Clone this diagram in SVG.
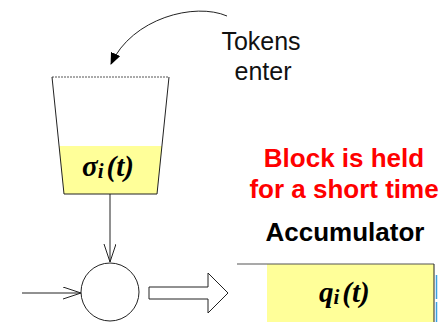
<svg xmlns="http://www.w3.org/2000/svg" width="442" height="322" viewBox="0 0 442 322">
  <style>
    .line { fill: none; stroke: #222; stroke-width: 1; }
    .sans { font-family: "Liberation Sans", Arial, sans-serif; }
    .math { font-family: "Liberation Serif", "Times New Roman", serif; font-weight: bold; font-style: italic; }
    .bold { font-weight: bold; }
    .fill { fill: #ffff99; }
  </style>
  <defs>
    <marker id="solidHead" markerWidth="12" markerHeight="10" refX="11" refY="5" orient="auto" markerUnits="userSpaceOnUse">
      <path d="M0,0 L12,5 L0,10 Z" fill="#000"/>
    </marker>
    <marker id="openHead" markerWidth="20" markerHeight="14" refX="18" refY="6" orient="auto" markerUnits="userSpaceOnUse">
      <path d="M0,0 L18,6 L0,12" fill="none" stroke="#222" stroke-width="1"/>
    </marker>
  </defs>

  <rect width="442" height="322" fill="#fff"/>

  <!-- bucket holding sigma_i(t) -->
  <g id="bucket">
    <path class="fill" d="M59,146 L162,146 L157,194 L64,194 Z"/>
    <line x1="52" y1="77" x2="169" y2="77" stroke="#555" stroke-width="1" stroke-dasharray="2,1"/>
    <path class="line" d="M52,77 L64,194 L157,194 L169,77"/>
    <text class="math" x="82" y="176" font-size="29">σ<tspan font-size="21" dy="2">i</tspan><tspan dy="-2" dx="3">(t)</tspan></text>
  </g>

  <!-- summing junction -->
  <g id="junction">
    <circle cx="110" cy="292" r="29" fill="#fff" stroke="#222" stroke-width="1"/>
  </g>

  <!-- accumulator q_i(t) -->
  <g id="accumulator">
    <rect class="fill" x="267" y="264" width="167" height="60"/>
    <line x1="237" y1="264" x2="434" y2="264" stroke="#555" stroke-width="1.2"/>
    <line x1="434" y1="264" x2="434" y2="322" stroke="#222" stroke-width="1"/>
    <line x1="436.5" y1="275" x2="436.5" y2="322" stroke="#3aa0e0" stroke-width="1.5" stroke-dasharray="24,3"/>
    <text class="math" x="319" y="302" font-size="29">q<tspan font-size="21" dy="2">i</tspan><tspan dy="-2" dx="3">(t)</tspan></text>
  </g>

  <!-- labels -->
  <g id="labels" class="sans" text-anchor="middle">
    <text x="261" y="50" font-size="25" fill="#111">Tokens</text>
    <text x="263" y="80" font-size="25" fill="#111">enter</text>
    <text class="bold" x="344" y="167" font-size="26" fill="#ff0000">Block is held</text>
    <text class="bold" x="344" y="198" font-size="26" fill="#ff0000">for a short time</text>
    <text class="bold" x="345" y="241" font-size="26" fill="#000">Accumulator</text>
  </g>

  <!-- connectors -->
  <g id="connectors">
    <path class="line" d="M227,16 C195,2 132,18 111,64" marker-end="url(#solidHead)"/>
    <line class="line" x1="110" y1="194" x2="110" y2="262" marker-end="url(#openHead)"/>
    <line class="line" x1="22" y1="293" x2="81" y2="293" marker-end="url(#openHead)"/>
    <polygon points="149,287 208,287 208,273 228,293 208,313 208,299 149,299" fill="#fff" stroke="#222" stroke-width="1"/>
  </g>
</svg>
